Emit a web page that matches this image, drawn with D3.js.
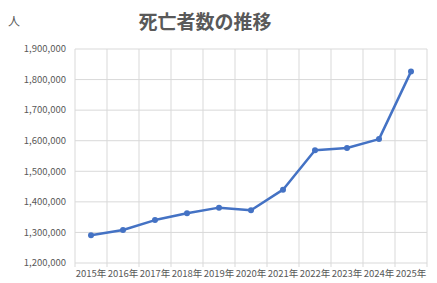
<!DOCTYPE html>
<html><head><meta charset="utf-8">
<script src="https://cdn.jsdelivr.net/npm/d3@7"></script>
<style>body{margin:0;background:#fff}</style>
</head><body>
<svg id="c" width="437" height="283"></svg>
<script>
const years = ["2015年","2016年","2017年","2018年","2019年","2020年","2021年","2022年","2023年","2024年","2025年"];
const deaths = [1290444,1307748,1340397,1362470,1381093,1372755,1439856,1569050,1575936,1605298,1826000];
const yTicks = [1200000,1300000,1400000,1500000,1600000,1700000,1800000,1900000];
const title = "死亡者数の推移";
const unit = "人";

const svg = d3.select("#c");
const font = "'Noto Sans CJK JP','Noto Sans',sans-serif";
const L=75,R=427,T=49,B=263;
const x = d3.scaleBand().domain(years).range([L,R]);
const y = d3.scaleLinear().domain([1200000,1900000]).range([B,T]);
const grid="#d9d9d9", txt="#595959";

// horizontal grid
svg.append("g").selectAll("line").data(yTicks).join("line")
  .attr("x1",L).attr("x2",R).attr("y1",d=>y(d)).attr("y2",d=>y(d))
  .attr("stroke",grid).attr("stroke-width",1);
// vertical grid at band boundaries
const bounds = years.map(d=>x(d)).concat([R]);
svg.append("g").selectAll("line").data(bounds).join("line")
  .attr("x1",d=>d).attr("x2",d=>d).attr("y1",T).attr("y2",B+4)
  .attr("stroke",grid).attr("stroke-width",1);

// y labels
svg.append("g").selectAll("text").data(yTicks).join("text")
  .attr("x",66).attr("y",d=>y(d)).attr("dy","0.35em")
  .attr("text-anchor","end").attr("fill",txt)
  .attr("font-family",font).attr("font-size",9.5)
  .text(d=>d3.format(",")(d));
// x labels
svg.append("g").selectAll("text").data(years).join("text")
  .attr("x",d=>x(d)+x.bandwidth()/2).attr("y",274).attr("dy","0.35em")
  .attr("text-anchor","middle").attr("fill",txt)
  .attr("font-family",font).attr("font-size",9.5)
  .text(d=>d);

// line
const pts = years.map((d,i)=>[x(d)+x.bandwidth()/2, y(deaths[i])]);
svg.append("path").attr("d",d3.line()(pts))
  .attr("fill","none").attr("stroke","#4472C4").attr("stroke-width",2.5)
  .attr("stroke-linejoin","round");
svg.append("g").selectAll("circle").data(pts).join("circle")
  .attr("cx",d=>d[0]).attr("cy",d=>d[1]).attr("r",3)
  .attr("fill","#4472C4");

// title
svg.append("text").attr("x",205).attr("y",22).attr("dy","0.35em")
  .attr("text-anchor","middle").attr("fill",txt)
  .attr("font-family",font).attr("font-size",19).attr("font-weight","bold")
  .text(title);
svg.append("text").attr("x",14).attr("y",22).attr("dy","0.35em")
  .attr("text-anchor","middle").attr("fill",txt)
  .attr("font-family",font).attr("font-size",12)
  .text(unit);
</script>
</body></html>
